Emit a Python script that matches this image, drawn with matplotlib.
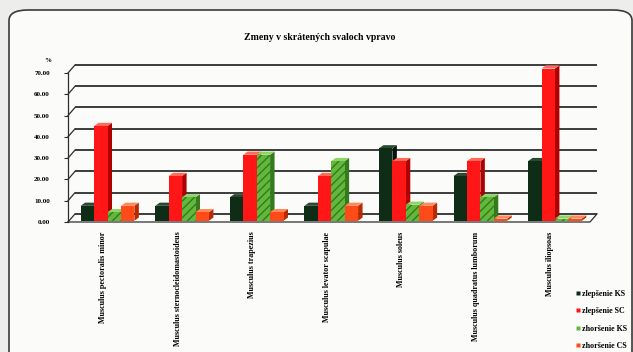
import numpy as np
import matplotlib
matplotlib.use("Agg")
import matplotlib.pyplot as plt
from matplotlib.patches import Polygon, FancyBboxPatch
from matplotlib.lines import Line2D

plt.rcParams['font.family'] = ['Liberation Serif', 'DejaVu Serif']

title = "Zmeny v skrátených svaloch vpravo"
muscles = ["Musculus pectoralis minor", "Musculus sternocleidomastoideus",
           "Musculus trapezius", "Musculus levator scapulae",
           "Musculus soleus", "Musculus quadratus lumborum",
           "Musculus iliopsoas"]
series_names = ["zlepšenie KS", "zlepšenie SC", "zhoršenie KS", "zhoršenie CS"]

zlepsenie_ks = [7, 7, 11, 7, 34, 21, 28]
zlepsenie_sc = [44.5, 21, 31, 21, 28, 28, 71.5]
zhorsenie_ks = [4, 11, 31, 28, 7.5, 11, 1]
zhorsenie_cs = [7, 4, 4, 7, 7, 1, 1]
y_ticks = [0, 10, 20, 30, 40, 50, 60, 70]

series = [zlepsenie_ks, zlepsenie_sc, zhorsenie_ks, zhorsenie_cs]
# front / top / side shades per series
faces = [("#0f2c17", "#2c4a32", "#04160a"),
         ("#ff1616", "#ff6a5a", "#b00000"),
         ("#62b83c", "#8fd468", "#357a1c"),
         ("#ff4a1a", "#ff8a5a", "#b82a00")]
hatches = [None, None, "////", None]

W, H = 633, 352
fig = plt.figure(figsize=(W / 100, H / 100), dpi=100)
fig.patch.set_facecolor("#ededeb")

# chart frame, kept behind the axes
frame = FancyBboxPatch((9 / W, -0.1), (623 / W), 1 - 10 / H + 0.1,
                       boxstyle="round,pad=0,rounding_size=0.03",
                       transform=fig.transFigure, facecolor="#fbfbf9",
                       edgecolor="#3a3a3a", linewidth=1.2, zorder=-5)
fig.patches.append(frame)

fig.text(320 / W, 1 - 37 / H, title, ha="center", va="center",
         fontsize=7, fontweight="bold")
fig.text(48 / W, 1 - 60 / H, "%", ha="center", va="center",
         fontsize=5, fontweight="bold")

ax = fig.add_axes([68 / W, 1 - 222 / H, 522 / W, 149 / H])
ax.set_xlim(0, 7)
ax.set_ylim(0, 70)
ax.patch.set_alpha(0)

n = len(muscles)
# depth of the back wall in data units
wdx, wdy = 0.094, 3.8

# back wall gridlines and the short slanted lines on the side wall
for v in y_ticks:
    ax.plot([wdx, n + wdx], [v + wdy, v + wdy], color="#2e2e2e", lw=1.3,
            zorder=1, clip_on=False, solid_capstyle="butt")
    ax.plot([0, wdx], [v, v + wdy], color="#2e2e2e", lw=0.9, zorder=1,
            clip_on=False)

# floor edges
ax.plot([0, n, n + wdx], [0, 0, wdy], color="#2e2e2e", lw=0.9, zorder=1,
        clip_on=False)

# pseudo-3D columns
bw = 0.18
bdx, bdy = 0.06, 1.5
ox, oy = 0.02, 0.6
for i in range(n):
    for k, vals in enumerate(series):
        v = vals[i]
        x0 = i + 0.15 + k * bw + ox
        x1 = x0 + bw
        y0, y1 = oy, oy + v
        front, top, side = faces[k]
        z = 3 + i * 10 + k
        ax.add_patch(Polygon([(x1, y0), (x1 + bdx, y0 + bdy),
                              (x1 + bdx, y1 + bdy), (x1, y1)],
                             closed=True, facecolor=side, edgecolor="none",
                             zorder=z, clip_on=False))
        ax.add_patch(Polygon([(x0, y1), (x0 + bdx, y1 + bdy),
                              (x1 + bdx, y1 + bdy), (x1, y1)],
                             closed=True, facecolor=top, edgecolor="none",
                             zorder=z, clip_on=False))
        ax.add_patch(Polygon([(x0, y0), (x1, y0), (x1, y1), (x0, y1)],
                             closed=True, facecolor=front,
                             edgecolor=side if hatches[k] else "none",
                             hatch=hatches[k], lw=0, zorder=z + 0.5,
                             clip_on=False))

for sp in ["top", "right", "bottom"]:
    ax.spines[sp].set_visible(False)
ax.spines["left"].set_color("#2e2e2e")
ax.spines["left"].set_linewidth(0.9)
ax.set_yticks(y_ticks)
ax.set_yticklabels([f"{t:.2f}" for t in y_ticks], fontsize=5,
                   fontweight="bold")
ax.tick_params(axis="y", length=3, width=0.8, pad=10, color="#2e2e2e")
ax.set_xticks([])

# rotated category names under the floor
for i, name in enumerate(muscles):
    ax.annotate(name, xy=(i + 0.47, 0), xycoords="data",
                xytext=(0, -7), textcoords="offset points",
                rotation=90, ha="center", va="top", fontsize=5.8,
                fontweight="bold", annotation_clip=False)

handles = [Line2D([], [], marker="s", ls="none", markersize=3,
                  markerfacecolor=f[0], markeredgecolor="none")
           for f in faces]
fig.legend(handles, series_names, loc="upper left",
           bbox_to_anchor=(576 / W, 1 - 290 / H), frameon=False,
           handlelength=0.6, handletextpad=0.2,
           labelspacing=1.15, borderpad=0, borderaxespad=0,
           prop={"weight": "bold", "size": 5.8})

fig.savefig("out.png", dpi=100, facecolor=fig.get_facecolor())
